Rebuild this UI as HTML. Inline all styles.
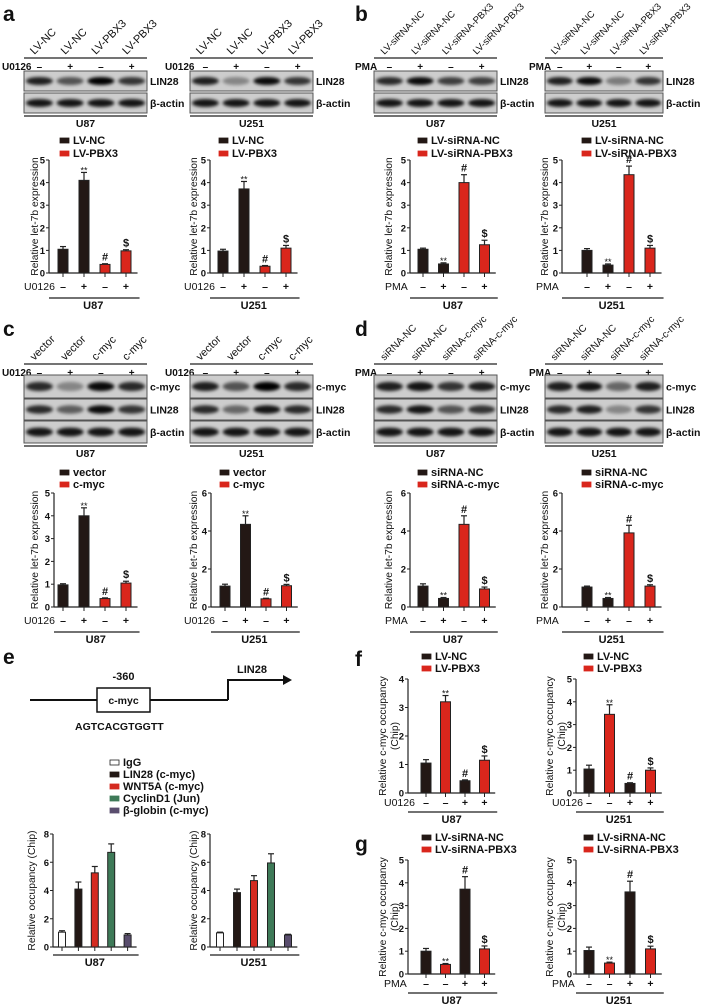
<!DOCTYPE html>
<html><head><meta charset="utf-8">
<style>
html,body{margin:0;padding:0;background:#fff;}
svg{display:block;font-family:"Liberation Sans",Arial,sans-serif;}
text{fill:#111;}
</style></head>
<body>
<svg id="fig" width="709" height="1007" viewBox="0 0 709 1007">
<defs>
<filter id="blur" x="-20%" y="-50%" width="140%" height="200%"><feGaussianBlur stdDeviation="1.6"/></filter>
</defs>
</svg>
<script>
// ===== data =====
const aU87Vals=[1.05,4.1,0.38,0.98], aU87Errs=[0.12,0.35,0.03,0.05];
const aU251Vals=[0.97,3.72,0.3,1.1], aU251Errs=[0.08,0.33,0.03,0.12];
const bU87Vals=[1.05,0.4,4.0,1.25], bU87Errs=[0.05,0.05,0.35,0.2];
const bU251Vals=[1.0,0.35,4.35,1.1], bU251Errs=[0.08,0.05,0.38,0.12];
const cU87Vals=[0.97,4.0,0.37,1.05], cU87Errs=[0.05,0.35,0.03,0.08];
const cU251Vals=[1.1,4.35,0.43,1.12], cU251Errs=[0.1,0.45,0.03,0.07];
const dU87Vals=[1.1,0.45,4.35,0.95], dU87Errs=[0.12,0.05,0.45,0.1];
const dU251Vals=[1.05,0.45,3.9,1.1], dU251Errs=[0.05,0.05,0.4,0.07];
const eU87Vals=[1.05,4.1,5.25,6.7,0.85], eU87Errs=[0.1,0.5,0.45,0.6,0.1];
const eU251Vals=[1.0,3.85,4.7,5.95,0.85], eU251Errs=[0.05,0.25,0.35,0.65,0.05];
const fU87Vals=[1.05,3.2,0.43,1.15], fU87Errs=[0.12,0.22,0.03,0.15];
const fU251Vals=[1.05,3.45,0.42,1.0], fU251Errs=[0.17,0.42,0.03,0.1];
const gU87Vals=[1.0,0.42,3.72,1.1], gU87Errs=[0.12,0.04,0.55,0.13];
const gU251Vals=[1.03,0.48,3.6,1.1], gU251Errs=[0.15,0.04,0.47,0.12];
const ticks5=[0,1,2,3,4,5], ticks6=[0,2,4,6], ticks4=[0,1,2,3,4], ticks8=[0,2,4,6,8];
const annUp=['','**','#','$'], annDown=['','**','#','$'];
const signsA=['–','+','–','+'], signsF=['–','–','+','+'];
const eLegend=['IgG','LIN28 (c-myc)','WNT5A (c-myc)','CyclinD1 (Jun)','β-globin (c-myc)'];
const BK='#231815', RD='#d9261c';
const colA=[BK,BK,RD,RD], colF=[BK,RD,BK,RD];
const eColors=['#ffffff','#231815','#d42a20','#3e7a58','#5a4e6e'];
// blot intensities
const aU87Lin=[0.85,0.6,1,0.75], aU251Lin=[0.85,0.35,0.95,0.75];
const bU87Lin=[0.8,0.95,0.7,0.7], bU251Lin=[0.85,0.95,0.4,0.75];
const cU87Myc=[0.8,0.35,0.95,0.8], cU87Lin=[0.8,0.55,0.95,0.75];
const cU251Myc=[0.85,0.6,1,0.8], cU251Lin=[0.8,0.5,0.9,0.8];
const dU87Myc=[0.85,0.9,0.75,0.85], dU87Lin=[0.8,0.9,0.6,0.75];
const dU251Myc=[0.85,0.9,0.5,0.85], dU251Lin=[0.8,0.85,0.35,0.75];
const actin=[0.9,0.9,0.9,0.9];

const svg=document.getElementById('fig');
const NS='http://www.w3.org/2000/svg';
function mk(tag,attrs,parent){const e=document.createElementNS(NS,tag);for(const k in attrs)e.setAttribute(k,attrs[k]);(parent||svg).appendChild(e);return e;}
function txt(x,y,s,size,opts,parent){opts=opts||{};const t=mk('text',Object.assign({x:x,y:y,'font-size':size,'font-weight':opts.w||'bold','text-anchor':opts.a||'start'},opts.extra||{}),parent);t.textContent=s;return t;}

[['a',3,21],['b',355,21],['c',3,336],['d',355,336],['e',3,664],['f',355,666],['g',355,851]].forEach(p=>{
  const t=txt(p[1],p[2],p[0],21);
  
  
});

function blotGroup(name,x,w,headY,headers,treatLabel,treatX,rows,cell,hs){
  const g=mk('g',{});
  
  
  const lw=w/4;
  headers.forEach((h,i)=>{
    const cx=x+lw*(i+0.5)-5;
    const t=txt(cx,headY-3,h,hs||11,{w:'normal',extra:{transform:'rotate(-45 '+cx+' '+(headY-3)+')'}},g);
    
    
  });
  mk('line',{x1:x,y1:headY,x2:x+w,y2:headY,stroke:'#222','stroke-width':1.2},g);
  const tl=txt(treatX,headY+12,treatLabel,10,{},g);
  
  
  signsA.forEach((s,i)=>{const t=txt(x+lw*(i+0.5),headY+12,s,10,{a:'middle'},g);
    
    });
  let bottom=0;
  rows.forEach(r=>{
    const rect=mk('rect',{x:x,y:r.y,width:w,height:r.h,fill:'#cdcdcd',stroke:'#555','stroke-width':1},g);
    
    
    r.ints.forEach((v,i)=>{
      mk('ellipse',{cx:x+lw*(i+0.5),cy:r.y+r.h/2,rx:lw*0.44,ry:r.h*0.2,fill:'#000','fill-opacity':v,filter:'url(#blur)'},g);
    });
    const t=txt(x+w+3,r.y+r.h/2+4,r.label,10.5,{},g);
    
    
    bottom=r.y+r.h;
  });
  mk('line',{x1:x,y1:bottom+3,x2:x+w,y2:bottom+3,stroke:'#444','stroke-width':1.5},g);
  const c=txt(x+w/2,bottom+14,cell,10.5,{a:'middle'},g);
  
  
}

function legend(x,y,items,colors,dy,name){
  const g=mk('g',{});
  
  
  items.forEach((s,i)=>{
    mk('rect',{x:x,y:y+i*dy-4,width:9,height:5,fill:colors[i],stroke:colors[i]==='#ffffff'?'#222':colors[i],'stroke-width':0.8},g);
    const t=txt(x+13,y+i*dy+2,s,11,{},g);
    
    
  });
}

function barChart(o){
  const g=mk('g',{});
  
  
  const ys=v=>o.y0-(v/o.max)*(o.y0-o.yTop);
  const xs=i=>o.x0+o.step*i;
  const n=o.vals.length;
  mk('line',{x1:o.ax,y1:o.yTop,x2:o.ax,y2:o.y0,stroke:'#222','stroke-width':1.2},g);
  o.ticks.forEach(t=>{
    mk('line',{x1:o.ax-3,y1:ys(t),x2:o.ax,y2:ys(t),stroke:'#222','stroke-width':1},g);
    const l=txt(o.ax-4,ys(t)+3.5,String(t),9.5,{a:'end'},g);
    
    
  });
  const xEnd=xs(n-1)+o.step*0.55;
  mk('line',{x1:o.ax,y1:o.y0,x2:xEnd,y2:o.y0,stroke:'#222','stroke-width':1.2},g);
  o.vals.forEach((v,i)=>{
    const cx=xs(i), top=ys(v+o.errs[i]);
    mk('line',{x1:cx,y1:ys(v),x2:cx,y2:top,stroke:'#222','stroke-width':1.2},g);
    mk('line',{x1:cx-3,y1:top,x2:cx+3,y2:top,stroke:'#222','stroke-width':1.2},g);
    const b=mk('rect',{x:cx-o.bw/2,y:ys(v),width:o.bw,height:o.y0-ys(v),fill:o.colors[i],stroke:'#222','stroke-width':1},g);
    
    
    mk('line',{x1:cx,y1:o.y0,x2:cx,y2:o.y0+4,stroke:'#222','stroke-width':1},g);
    if(o.ann&&o.ann[i]){
      const a=txt(cx,top-3+(o.ann[i]==='**'?4:0),o.ann[i],o.ann[i]==='**'?9:11,{a:'middle',w:o.ann[i]==='**'?'normal':'bold'},g);
      
      
    }
  });
  const cy=(o.y0+o.yTop)/2;
  o.title.forEach((s,k)=>{
    const tx=o.tx+k*12;
    const t=txt(tx,cy,s,10.3,{a:'middle',w:'normal',extra:{transform:'rotate(-90 '+tx+' '+cy+')'}},g);
    
    
  });
  const rowDy=o.rowDy||17, lineDy=o.lineDy||25;
  let lineY=o.y0+8;
  if(o.signs){
    const r=o.y0+rowDy;
    const tl=txt(o.rowX,r,o.rowLabel,10.5,{w:'normal'},g);
    
    
    o.signs.forEach((s,i)=>{const t=txt(xs(i),r,s,10.5,{a:'middle'},g);
      
      });
    lineY=o.y0+lineDy;
  }
  mk('line',{x1:o.ax,y1:lineY,x2:xEnd+2,y2:lineY,stroke:'#444','stroke-width':1.4},g);
  const c=txt((o.ax+xEnd)/2,lineY+11,o.cell,11,{a:'middle'},g);
  
  
}

const tLet=['Relative let-7b expression'];
const tOcc=['Relative c-myc occupancy','(Chip)'];

// ===== Panel a =====
blotGroup('blot-a-u87',24,123,58,['LV-NC','LV-NC','LV-PBX3','LV-PBX3'],'U0126',2,[{y:71,h:20,label:'LIN28',ints:aU87Lin},{y:93,h:20,label:'β-actin',ints:actin}],'U87');
blotGroup('blot-a-u251',190,123,58,['LV-NC','LV-NC','LV-PBX3','LV-PBX3'],'U0126',165,[{y:71,h:20,label:'LIN28',ints:aU251Lin},{y:93,h:20,label:'β-actin',ints:actin}],'U251');
legend(60,142,['LV-NC','LV-PBX3'],[BK,RD],13,'legend-a-u87');
legend(219,142,['LV-NC','LV-PBX3'],[BK,RD],13,'legend-a-u251');
barChart({name:'chart-a-u87',ax:49,y0:273,yTop:160,max:5,ticks:ticks5,x0:63,step:21,bw:10,vals:aU87Vals,errs:aU87Errs,colors:colA,ann:annUp,title:tLet,tx:38,signs:signsA,rowLabel:'U0126',rowX:24,cell:'U87'});
barChart({name:'chart-a-u251',ax:210,y0:273,yTop:160,max:5,ticks:ticks5,x0:223,step:21,bw:10,vals:aU251Vals,errs:aU251Errs,colors:colA,ann:annUp,title:tLet,tx:197,signs:signsA,rowLabel:'U0126',rowX:184,cell:'U251'});

// ===== Panel b =====
const bHead=['LV-siRNA-NC','LV-siRNA-NC','LV-siRNA-PBX3','LV-siRNA-PBX3'];
blotGroup('blot-b-u87',374,123,58,bHead,'PMA',355,[{y:71,h:20,label:'LIN28',ints:bU87Lin},{y:93,h:20,label:'β-actin',ints:actin}],'U87',9.5);
blotGroup('blot-b-u251',545,118,58,bHead,'PMA',529,[{y:71,h:20,label:'LIN28',ints:bU251Lin},{y:93,h:20,label:'β-actin',ints:actin}],'U251',9.5);
legend(418,142,['LV-siRNA-NC','LV-siRNA-PBX3'],[BK,RD],13,'legend-b-u87');
legend(582,142,['LV-siRNA-NC','LV-siRNA-PBX3'],[BK,RD],13,'legend-b-u251');
barChart({name:'chart-b-u87',ax:410,y0:273,yTop:160,max:5,ticks:ticks5,x0:423,step:20.5,bw:10,vals:bU87Vals,errs:bU87Errs,colors:colA,ann:annDown,title:tLet,tx:392,signs:signsA,rowLabel:'PMA',rowX:385,cell:'U87'});
barChart({name:'chart-b-u251',ax:562,y0:273,yTop:160,max:5,ticks:ticks5,x0:587,step:21,bw:10,vals:bU251Vals,errs:bU251Errs,colors:colA,ann:annDown,title:tLet,tx:548,signs:signsA,rowLabel:'PMA',rowX:536,cell:'U251'});

// ===== Panel c =====
const cHead=['vector','vector','c-myc','c-myc'];
const cRows=(m,l)=>[{y:375,h:23,label:'c-myc',ints:m},{y:399,h:21,label:'LIN28',ints:l},{y:421,h:22,label:'β-actin',ints:actin}];
blotGroup('blot-c-u87',24,123,364,cHead,'U0126',2,cRows(cU87Myc,cU87Lin),'U87');
blotGroup('blot-c-u251',190,123,364,cHead,'U0126',165,cRows(cU251Myc,cU251Lin),'U251');
legend(60,474,['vector','c-myc'],[BK,RD],12,'legend-c-u87');
legend(220,474,['vector','c-myc'],[BK,RD],12,'legend-c-u251');
barChart({name:'chart-c-u87',ax:54,y0:607,yTop:493,max:5,ticks:ticks5,x0:63,step:21,bw:10,vals:cU87Vals,errs:cU87Errs,colors:colA,ann:annUp,title:tLet,tx:38,signs:signsA,rowLabel:'U0126',rowX:24,cell:'U87'});
barChart({name:'chart-c-u251',ax:211,y0:607,yTop:493,max:6,ticks:ticks6,x0:225,step:20.5,bw:10,vals:cU251Vals,errs:cU251Errs,colors:colA,ann:annUp,title:tLet,tx:197,signs:signsA,rowLabel:'U0126',rowX:184,cell:'U251'});

// ===== Panel d =====
const dHead=['siRNA-NC','siRNA-NC','siRNA-c-myc','siRNA-c-myc'];
blotGroup('blot-d-u87',374,123,364,dHead,'PMA',355,cRows(dU87Myc,dU87Lin),'U87',10);
blotGroup('blot-d-u251',545,118,364,dHead,'PMA',529,cRows(dU251Myc,dU251Lin),'U251',10);
legend(418,474,['siRNA-NC','siRNA-c-myc'],[BK,RD],12,'legend-d-u87');
legend(582,474,['siRNA-NC','siRNA-c-myc'],[BK,RD],12,'legend-d-u251');
barChart({name:'chart-d-u87',ax:410,y0:607,yTop:493,max:6,ticks:ticks6,x0:423,step:20.5,bw:10,vals:dU87Vals,errs:dU87Errs,colors:colA,ann:annDown,title:tLet,tx:392,signs:signsA,rowLabel:'PMA',rowX:385,cell:'U87'});
barChart({name:'chart-d-u251',ax:562,y0:607,yTop:493,max:6,ticks:ticks6,x0:587,step:21,bw:10,vals:dU251Vals,errs:dU251Errs,colors:colA,ann:annDown,title:tLet,tx:548,signs:signsA,rowLabel:'PMA',rowX:536,cell:'U251'});

// ===== Panel e diagram =====
(function(){
  const g=mk('g',{});
  
  
  mk('line',{x1:30,y1:700,x2:228,y2:700,stroke:'#111','stroke-width':2},g);
  const b=mk('rect',{x:97,y:688,width:53,height:24,fill:'#fff',stroke:'#111','stroke-width':1.5},g);
  
  
  txt(123.5,704,'c-myc',10.5,{a:'middle'},g);
  txt(123.5,680,'-360',11,{a:'middle'},g);
  txt(75,730,'AGTCACGTGGTT',10.5,{},g);
  mk('polyline',{points:'228,700 228,680 284,680',fill:'none',stroke:'#111','stroke-width':2},g);
  mk('polygon',{points:'292,680 283,675 283,685',fill:'#111'},g);
  txt(237,673,'LIN28',11,{},g);
})();
legend(110,764,eLegend,eColors,12,'legend-e');
barChart({name:'chart-e-u87',ax:53,y0:947,yTop:834,max:8,ticks:ticks8,x0:62,step:16.4,bw:7,vals:eU87Vals,errs:eU87Errs,colors:eColors,ann:null,title:['Relative occupancy (Chip)'],tx:35,signs:null,cell:'U87'});
barChart({name:'chart-e-u251',ax:210,y0:947,yTop:834,max:8,ticks:ticks8,x0:220,step:17,bw:7,vals:eU251Vals,errs:eU251Errs,colors:eColors,ann:null,title:['Relative occupancy (Chip)'],tx:197,signs:null,cell:'U251'});

// ===== Panel f =====
legend(422,658,['LV-NC','LV-PBX3'],[BK,RD],12,'legend-f-u87');
legend(584,658,['LV-NC','LV-PBX3'],[BK,RD],12,'legend-f-u251');
barChart({name:'chart-f-u87',ax:408,y0:793,yTop:679,max:4,ticks:ticks4,x0:426,step:19.5,bw:10,vals:fU87Vals,errs:fU87Errs,colors:colF,ann:annUp,title:tOcc,tx:386,signs:signsF,rowLabel:'U0126',rowX:384,cell:'U87',rowDy:13,lineDy:19});
barChart({name:'chart-f-u251',ax:576,y0:793,yTop:679,max:5,ticks:ticks5,x0:589,step:20.5,bw:10,vals:fU251Vals,errs:fU251Errs,colors:colF,ann:annUp,title:tOcc,tx:553,signs:signsF,rowLabel:'U0126',rowX:552,cell:'U251',rowDy:13,lineDy:19});

// ===== Panel g =====
legend(422,839,['LV-siRNA-NC','LV-siRNA-PBX3'],[BK,RD],12,'legend-g-u87');
legend(584,839,['LV-siRNA-NC','LV-siRNA-PBX3'],[BK,RD],12,'legend-g-u251');
barChart({name:'chart-g-u87',ax:408,y0:974,yTop:860,max:5,ticks:ticks5,x0:426,step:19.5,bw:10,vals:gU87Vals,errs:gU87Errs,colors:colF,ann:annUp,title:tOcc,tx:386,signs:signsF,rowLabel:'PMA',rowX:384,cell:'U87',rowDy:13,lineDy:19});
barChart({name:'chart-g-u251',ax:576,y0:974,yTop:860,max:5,ticks:ticks5,x0:589,step:20.5,bw:10,vals:gU251Vals,errs:gU251Errs,colors:colF,ann:annUp,title:tOcc,tx:553,signs:signsF,rowLabel:'PMA',rowX:552,cell:'U251',rowDy:13,lineDy:19});
</script>
</body></html>
